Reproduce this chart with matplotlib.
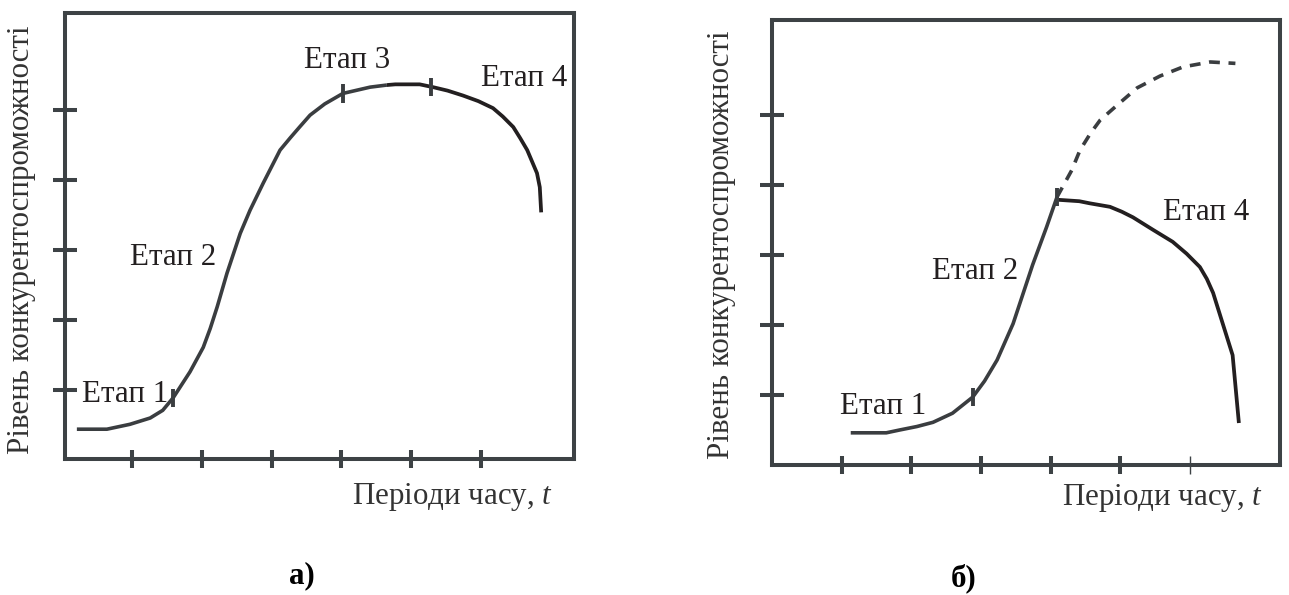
import matplotlib
matplotlib.use("Agg")
import matplotlib.pyplot as plt
import numpy as np

plt.rcParams['font.family'] = ['Liberation Serif', 'DejaVu Serif']
plt.rcParams['mathtext.fontset'] = 'custom'
plt.rcParams['mathtext.rm'] = 'Liberation Serif'
plt.rcParams['mathtext.it'] = 'Liberation Serif:italic'

# --- panel a): S-curve, stages 1-4 ---
a_growth_x = [0.21, 0.64, 0.97, 1.26, 1.44, 1.59, 1.83, 2.02, 2.12, 2.22, 2.36, 2.55, 2.69,
              2.88, 3.12, 3.27, 3.40, 3.55, 3.76, 4.02, 4.41, 4.65]
a_growth_y = [0.44, 0.44, 0.51, 0.60, 0.71, 0.89, 1.26, 1.61, 1.88, 2.19, 2.67, 3.24, 3.57,
              3.96, 4.43, 4.61, 4.76, 4.93, 5.09, 5.24, 5.33, 5.36]
a_decline_x = [4.65, 4.77, 5.12, 5.31, 5.52, 5.74, 5.96, 6.17, 6.31, 6.46, 6.56, 6.66,
               6.80, 6.84, 6.86]
a_decline_y = [5.36, 5.37, 5.37, 5.33, 5.28, 5.21, 5.13, 5.03, 4.91, 4.76, 4.60, 4.43,
               4.10, 3.90, 3.54]
a_stage_bounds = [1.59, 4.02, 5.28]
a_labels = ['Етап 1', 'Етап 2', 'Етап 3', 'Етап 4']
a_label_x = [0.28, 0.97, 3.46, 6.00]
a_label_y = [0.93, 2.89, 5.71, 5.46]

# --- panel б): growth, then decline (solid) vs. potential (dashed) ---
b_growth_x = [1.13, 1.64, 1.83, 2.08, 2.31, 2.59, 2.88, 3.05, 3.23, 3.46, 3.60, 3.74,
              3.94, 4.09]
b_growth_y = [0.46, 0.46, 0.50, 0.55, 0.61, 0.74, 0.97, 1.20, 1.50, 2.02, 2.44, 2.86,
              3.40, 3.83]
b_potential_x = [4.09, 4.30, 4.42, 4.57, 4.71, 4.95, 5.24, 5.57, 5.90, 6.29, 6.65]
b_potential_y = [3.83, 4.21, 4.50, 4.74, 4.93, 5.14, 5.39, 5.56, 5.69, 5.76, 5.74]
b_decline_x = [4.11, 4.41, 4.56, 4.85, 5.02, 5.18, 5.47, 5.75, 5.95, 6.14, 6.24, 6.33,
               6.61, 6.70]
b_decline_y = [3.79, 3.77, 3.74, 3.69, 3.62, 3.54, 3.36, 3.19, 3.02, 2.83, 2.66, 2.46,
               1.57, 0.60]
b_stage_bounds = [2.88, 4.09]
b_labels = ['Етап 1', 'Етап 2', 'Етап 4']
b_label_x = [0.97, 2.29, 5.61]
b_label_y = [0.83, 2.76, 3.61]

periods = [1, 2, 3, 4, 5, 6]
levels = [1, 2, 3, 4, 5]

ylabel = 'Рівень конкурентоспроможності'
xlabel = 'Періоди часу, $t$'

W, H = 1289, 595
frame_col = '#3d4245'
gray_col = '#3a3d40'
black_col = '#231f20'
fs = 22.3

fig = plt.figure(figsize=(W / 100, H / 100), dpi=100)


def px_axes(l, t, r, b):
    return fig.add_axes([l / W, 1 - b / H, (r - l) / W, (b - t) / H])


def style_axes(ax, xlim, ylim):
    ax.set_xlim(*xlim)
    ax.set_ylim(*ylim)
    ax.set_xticks(periods)
    ax.set_yticks(levels)
    ax.set_xticklabels([])
    ax.set_yticklabels([])
    for s in ax.spines.values():
        s.set_linewidth(2.9)
        s.set_color(frame_col)
    ax.tick_params(axis='y', direction='inout', length=17, width=2.9, color=frame_col)
    ax.tick_params(axis='x', direction='inout', length=13, width=2.9, color=frame_col)


def stage_marks(ax, bx, cx, cy, col):
    for x in bx:
        y = np.interp(x, cx, cy)
        ax.plot([x, x], [y - 0.13, y + 0.13], color=col, lw=2.8, solid_capstyle='butt')


# panel a)
ax1 = px_axes(65, 13, 574, 459)
style_axes(ax1, (0.04, 7.33), (0.014, 6.39))
ax1.plot(a_growth_x, a_growth_y, color=gray_col, lw=2.6, solid_capstyle='butt')
ax1.plot(a_decline_x, a_decline_y, color=black_col, lw=2.7, solid_capstyle='butt')
stage_marks(ax1, a_stage_bounds, a_growth_x + a_decline_x, a_growth_y + a_decline_y, gray_col)
for lab, x, y in zip(a_labels, a_label_x, a_label_y):
    ax1.text(x, y, lab, fontsize=fs, color=black_col, ha='left', va='center')

# panel б)
ax2 = px_axes(772, 20, 1280, 465)
style_axes(ax2, (0.0, 7.29), (0.0, 6.36))
ax2.xaxis.get_major_ticks()[-1].tick1line.set_markeredgewidth(1)
ax2.xaxis.get_major_ticks()[-1].tick2line.set_markeredgewidth(1)
ax2.plot(b_growth_x, b_growth_y, color=gray_col, lw=2.6, solid_capstyle='butt')
ax2.plot(b_potential_x, b_potential_y, color=gray_col, lw=2.6, dashes=(3, 2.4))
ax2.plot(b_decline_x, b_decline_y, color=black_col, lw=2.7, solid_capstyle='butt')
stage_marks(ax2, b_stage_bounds, b_growth_x, b_growth_y, gray_col)
for lab, x, y in zip(b_labels, b_label_x, b_label_y):
    ax2.text(x, y, lab, fontsize=fs, color=black_col, ha='left', va='center')

# axis titles and panel captions
fig.text(22 / W, 1 - 240 / H, ylabel, rotation=90, fontsize=fs, color='#333333',
         ha='center', va='center')
fig.text(722 / W, 1 - 245 / H, ylabel, rotation=90, fontsize=fs, color='#333333',
         ha='center', va='center')
fig.text(553 / W, 1 - 497 / H, xlabel, fontsize=fs, color='#333333', ha='right', va='center')
fig.text(1263 / W, 1 - 498 / H, xlabel, fontsize=fs, color='#333333', ha='right', va='center')
fig.text(302 / W, 1 - 576 / H, 'а)', fontsize=fs, fontweight='bold', color='black',
         ha='center', va='center')
fig.text(964 / W, 1 - 578 / H, 'б)', fontsize=fs, fontweight='bold', color='black',
         ha='center', va='center')

fig.savefig('out.png', dpi=100)
